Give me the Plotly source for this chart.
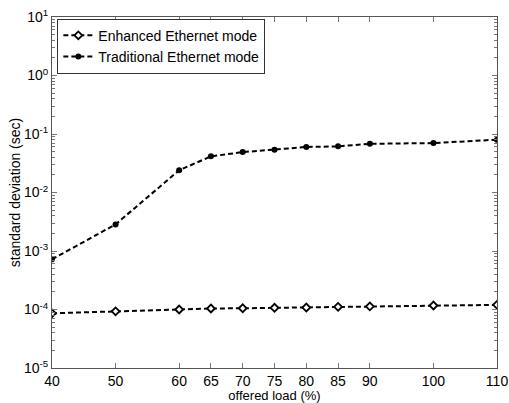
import plotly.graph_objects as go

load = [40, 50, 60, 65, 70, 75, 80, 85, 90, 100, 110]
enhanced = [8.6e-5, 9.3e-5, 1.0e-4, 1.04e-4, 1.05e-4, 1.07e-4, 1.08e-4, 1.11e-4, 1.13e-4, 1.17e-4, 1.2e-4]
traditional = [7.2e-4, 2.85e-3, 2.4e-2, 4.15e-2, 4.9e-2, 5.4e-2, 6.0e-2, 6.15e-2, 6.8e-2, 7.0e-2, 8.0e-2]
ytick_exp = [-5, -4, -3, -2, -1, 0, 1]

FONT = "Liberation Sans, Arial, sans-serif"

fig = go.Figure()
fig.add_trace(go.Scatter(
    x=load, y=enhanced, mode="lines+markers", name="Enhanced Ethernet mode",
    line=dict(color="black", width=2, dash="5px,3px"),
    marker=dict(symbol="diamond", size=6, color="white", line=dict(color="black", width=1.8)),
))
fig.add_trace(go.Scatter(
    x=load, y=traditional, mode="lines+markers", name="Traditional Ethernet mode",
    line=dict(color="black", width=2, dash="5px,3px"),
    marker=dict(symbol="circle", size=6, color="black"),
))

minor_vals = [m * 10 ** e for e in range(-5, 1) for m in range(2, 10)]

axis_common = dict(
    showline=True, linecolor="#555555", linewidth=1, mirror="allticks",
    ticks="inside", ticklen=5, tickcolor="#777777", showgrid=False, zeroline=False,
    automargin=False, ticklabeloverflow="allow",
    tickfont=dict(family=FONT, size=14, color="black"),
)

fig.update_layout(
    width=509, height=403,
    margin=dict(l=52, r=12, t=17, b=35),
    paper_bgcolor="white", plot_bgcolor="white",
    font=dict(family=FONT, size=13, color="black"),
    xaxis=dict(
        range=[40, 110], tickvals=load, ticktext=[str(v) for v in load],
        title=dict(text="offered load (%)", standoff=4, font=dict(size=13)),
        **axis_common,
    ),
    yaxis=dict(
        type="log", range=[-5, 1],
        tickvals=[10 ** e for e in ytick_exp],
        ticktext=["10<sup>%d</sup>" % e for e in ytick_exp],
        title=dict(text="standard deviation (sec)", standoff=0, font=dict(size=14)),
        minor=dict(tickvals=minor_vals, ticks="inside", ticklen=3, tickcolor="#777777", showgrid=False),
        **axis_common,
    ),
    legend=dict(
        x=0.012, y=0.995, xanchor="left", yanchor="top",
        bgcolor="white", bordercolor="#333333", borderwidth=1,
        font=dict(size=14), itemwidth=30, tracegroupgap=0,
    ),
    showlegend=True,
)

fig.write_html(
    "out.html",
    config={"displayModeBar": False},
    post_script="document.body.style.margin='0';document.body.style.overflow='hidden';",
)
